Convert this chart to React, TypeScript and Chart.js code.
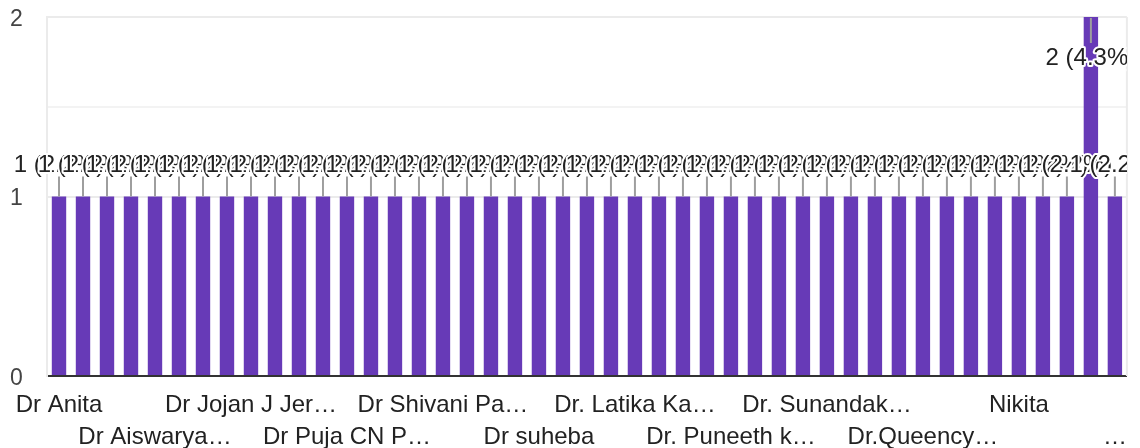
import React, { useEffect, useRef } from 'react';
import { Chart, registerables } from 'chart.js';

Chart.register(...registerables);

// Visible (truncated) axis labels, one for every 4th respondent
const tickLabels: string[] = [
  'Dr Anita',
  'Dr Aiswarya…',
  'Dr Jojan J Jer…',
  'Dr Puja CN P…',
  'Dr Shivani Pa…',
  'Dr suheba',
  'Dr. Latika Ka…',
  'Dr. Puneeth k…',
  'Dr. Sunandak…',
  'Dr.Queency…',
  'Nikita',
  '…',
];

// Response counts per answer (45 answers)
const counts: number[] = [
  1, 1, 1, 1, 1, 1, 1, 1, 1, 1,
  1, 1, 1, 1, 1, 1, 1, 1, 1, 1,
  1, 1, 1, 1, 1, 1, 1, 1, 1, 1,
  1, 1, 1, 1, 1, 1, 1, 1, 1, 1,
  1, 1, 1, 2, 1,
];

const yTicks: number[] = [0, 1, 2];

const categories: string[] = counts.map((_, i) => (i % 4 === 0 ? tickLabels[i / 4] : ''));
const total = counts.reduce((a, b) => a + b, 0);

const FONT = '"Liberation Sans", Arial, sans-serif';
const PURPLE = '#673ab7';

const annotationPlugin = {
  id: 'gformsAnnotations',
  afterDatasetsDraw(chart: any) {
    const ctx = chart.ctx as CanvasRenderingContext2D;
    const area = chart.chartArea;
    const meta = chart.getDatasetMeta(0);
    ctx.save();
    // right frame line
    ctx.strokeStyle = '#ebebeb';
    ctx.lineWidth = 2;
    ctx.beginPath();
    ctx.moveTo(area.right, area.top);
    ctx.lineTo(area.right, area.bottom);
    ctx.stroke();

    // stems
    ctx.strokeStyle = '#9e9e9e';
    ctx.lineWidth = 2;
    meta.data.forEach((bar: any) => {
      const inside = bar.y - area.top < 60;
      ctx.beginPath();
      if (inside) {
        ctx.moveTo(bar.x, bar.y + 1);
        ctx.lineTo(bar.x, bar.y + 26);
      } else {
        ctx.moveTo(bar.x, bar.y);
        ctx.lineTo(bar.x, bar.y - 20);
      }
      ctx.stroke();
    });

    // labels
    ctx.beginPath();
    ctx.rect(0, 0, area.right, chart.height);
    ctx.clip();
    ctx.font = '24px ' + FONT;
    ctx.textAlign = 'center';
    ctx.textBaseline = 'alphabetic';
    ctx.lineJoin = 'round';
    meta.data.forEach((bar: any, i: number) => {
      const v = counts[i];
      const pct = ((v / total) * 100).toFixed(1);
      const text = `${v} (${pct}%)`;
      const inside = bar.y - area.top < 60;
      const y = inside ? bar.y + 48 : bar.y - 24.5;
      ctx.strokeStyle = '#ffffff';
      ctx.lineWidth = 4;
      ctx.strokeText(text, bar.x, y);
      ctx.fillStyle = '#222222';
      ctx.fillText(text, bar.x, y);
    });
    ctx.restore();
  },
};

export default function App() {
  const canvasRef = useRef<HTMLCanvasElement | null>(null);

  useEffect(() => {
    if (!canvasRef.current) return;
    const chart = new Chart(canvasRef.current, {
      type: 'bar',
      data: {
        labels: categories,
        datasets: [
          {
            data: counts,
            backgroundColor: PURPLE,
            borderWidth: 0,
            categoryPercentage: 1,
            barPercentage: 0.6,
          },
        ],
      },
      options: {
        animation: false,
        responsive: false,
        devicePixelRatio: 1,
        layout: { padding: { top: 17, right: 10, left: 10, bottom: 0 } },
        plugins: {
          legend: { display: false },
          tooltip: { enabled: false },
        },
        scales: {
          x: {
            offset: true,
            grid: { display: false, drawTicks: false },
            border: { display: true, color: '#333333', width: 2 },
            ticks: {
              autoSkip: false,
              maxRotation: 0,
              minRotation: 0,
              padding: 13,
              color: '#222222',
              font: { family: FONT, size: 24, lineHeight: 32 / 24 },
              callback: (_v: any, index: number) => {
                if (index % 4 !== 0) return '';
                const name = categories[index];
                return (index / 4) % 2 === 0 ? name : ['', name];
              },
            },
            afterFit: (scale: any) => {
              scale.height = 72;
            },
          },
          y: {
            min: 0,
            max: 2,
            grid: {
              drawTicks: false,
              lineWidth: 2,
              color: (c: any) => {
                const v = c.tick ? c.tick.value : 0;
                if (v === 1.5) return '#f3f3f3';
                if (v === 0.5) return 'rgba(0,0,0,0)';
                return '#ebebeb';
              },
            },
            border: { display: true, color: '#ebebeb', width: 2 },
            ticks: {
              stepSize: 0.5,
              crossAlign: 'far',
              padding: 0,
              color: '#444444',
              font: { family: FONT, size: 23, lineHeight: '5px' },
              callback: (v: any) => (yTicks.includes(Number(v)) ? ['', String(v)] : ''),
            },
            afterFit: (scale: any) => {
              scale.width = 37;
            },
          },
        },
      },
      plugins: [annotationPlugin],
    } as any);
    return () => chart.destroy();
  }, []);

  return (
    <div style={{ position: 'fixed', left: 0, top: 0, width: 1140, height: 448, background: '#fff' }}>
      <canvas ref={canvasRef} width={1140} height={448} style={{ display: 'block' }} />
    </div>
  );
}
